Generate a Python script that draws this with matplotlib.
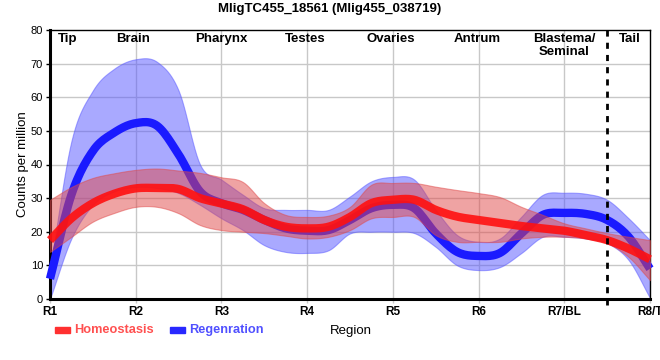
import numpy as np
import matplotlib
matplotlib.use("Agg")
import matplotlib.pyplot as plt

plt.rcParams['font.family'] = ['Liberation Sans', 'DejaVu Sans']

# region ticks along the worm
regions = ['R1', 'R2', 'R3', 'R4', 'R5', 'R6', 'R7/BL', 'R8/T']
region_names = ['Tip', 'Brain', 'Pharynx', 'Testes', 'Ovaries', 'Antrum', 'Blastema/\nSeminal', 'Tail']
name_pos = [0.2, 0.97, 2.0, 2.98, 3.98, 4.98, 6.0, 6.76]

# every quarter region
pos = np.arange(0, 7.01, 0.25)

homeo_mean = [17.5, 24, 28.5, 31.3, 32.9, 33, 32.7, 30, 28.4, 26.7, 23.5, 21.5, 21, 21.5, 24.4,
              28.5, 29.5, 29.5, 26.5, 24.5, 23.5, 22.6, 21.7, 21, 20.3, 19, 17.5, 15, 11.8]
homeo_hi = [29.5, 33.3, 36, 37.4, 38.4, 38.8, 38.2, 37.5, 36.2, 34.8, 28.5, 25, 24.4, 24.8, 27.4,
            34, 34.5, 34.5, 33.4, 32.4, 31.5, 30.3, 27.4, 25, 22.5, 21, 19.6, 18.5, 17.5]
homeo_lo = [14, 18.5, 23, 25.6, 27.4, 27.4, 25.5, 22, 20.5, 20, 19.6, 18.8, 18, 18.5, 20.5,
            24, 24.4, 24.4, 19, 17, 17, 17, 18, 18.5, 18.5, 18, 16.6, 12.5, 5.6]

regen_mean = [6, 31, 44, 49.5, 52.3, 51.5, 43, 32, 28.5, 26.5, 23.5, 21, 20.3, 20.5, 23.5,
              27, 28, 27, 19.5, 14, 12.8, 13.7, 19.5, 25, 25.6, 25.3, 23.5, 18.5, 9]
regen_hi = [9, 47, 62, 68.5, 71.3, 70.5, 62, 40, 35.5, 31, 27, 26.5, 26.5, 26.5, 30.5,
            35, 36.3, 35.5, 26.5, 19, 17, 18, 24.5, 31, 31.6, 31.3, 29.5, 24, 17.5]
regen_lo = [0, 18, 28, 32, 33.3, 33, 31.5, 28, 24, 20.5, 16, 14, 13.7, 14.5, 19.5,
            20, 20, 19.6, 15.5, 10, 8.6, 9.5, 13.7, 18.5, 18.5, 18, 16.6, 11.6, 0.3]


def smooth(x, y, n=12):
    # catmull-rom through the read points, just for drawing
    x = np.asarray(x, float)
    y = np.asarray(y, float)
    yp = np.concatenate([[2*y[0]-y[1]], y, [2*y[-1]-y[-2]]])
    xs, ys = [], []
    t = np.linspace(0, 1, n, endpoint=False)
    for i in range(len(x)-1):
        p0, p1, p2, p3 = yp[i:i+4]
        ys.append(0.5*(2*p1 + (-p0+p2)*t + (2*p0-5*p1+4*p2-p3)*t**2 + (-p0+3*p1-3*p2+p3)*t**3))
        xs.append(x[i] + (x[i+1]-x[i])*t)
    xs.append([x[-1]])
    ys.append([y[-1]])
    return np.concatenate(xs), np.concatenate(ys)


fig = plt.figure(figsize=(6.6, 3.6), dpi=100)
ax = fig.add_axes([50/660, 1-299/360, 600/660, 269/360])

ax.set_xlim(0, 7)
ax.set_ylim(0, 80)

for v in range(10, 80, 10):
    ax.axhline(v, color='#c8c8c8', lw=1, zorder=0)
for i in range(1, 7):
    ax.axvline(i, color='#c8c8c8', lw=1, zorder=0)

# regeneration first, homeostasis on top
xs, lo = smooth(pos, regen_lo)
_, hi = smooth(pos, regen_hi)
_, mn = smooth(pos, regen_mean)
ax.fill_between(xs, lo, hi, color='#5555ff', alpha=0.5, lw=0.8, edgecolor='#5555ff', zorder=2)
ax.plot(xs, mn, color='#1a1aff', lw=6, solid_capstyle='butt', zorder=3, clip_on=False)

xs, lo = smooth(pos, homeo_lo)
_, hi = smooth(pos, homeo_hi)
_, mn = smooth(pos, homeo_mean)
ax.fill_between(xs, lo, hi, color='#e04848', alpha=0.5, lw=0.8, edgecolor='#e04848', zorder=4)
ax.plot(xs, mn, color='#ff1010', lw=6, alpha=0.9, solid_capstyle='butt', zorder=5, clip_on=False)

# tail boundary
ax.plot([6.5, 6.5], [-1.8, 80], color='black', lw=2, ls=(0, (2.2, 2.2)), zorder=6, clip_on=False)

for name, x in zip(region_names, name_pos):
    ax.text(x, 79, name, ha='center', va='top', fontsize=9.5, fontweight='bold',
            linespacing=1.05, zorder=7)

ax.set_xticks(range(len(regions)))
ax.set_xticklabels(regions, fontweight='bold', fontsize=8.5)
ax.set_yticks(range(0, 81, 10))
ax.tick_params(axis='y', labelsize=8, length=3, width=1, pad=2)
ax.tick_params(axis='x', length=3, width=1, color='#c8c8c8', pad=2)

ax.spines['left'].set_linewidth(2.2)
ax.spines['bottom'].set_linewidth(2.2)
ax.spines['top'].set_linewidth(1)
ax.spines['right'].set_linewidth(1)

ax.set_ylabel('Counts per million', fontsize=9.5, labelpad=1)

fig.text(0.5, 0.975, 'MligTC455_18561 (Mlig455_038719)', ha='center', va='center',
         fontsize=9.5, fontweight='bold')

# legend drawn by hand at the bottom
fig.patches.append(plt.Rectangle((55/660, 1-333/360), 15/660, 6/360, color='#ff3030',
                                 transform=fig.transFigure, figure=fig))
fig.text(74/660, 1-330/360, 'Homeostasis', color='#ff5050', fontsize=9.2, fontweight='bold',
         va='center')
fig.patches.append(plt.Rectangle((170/660, 1-333/360), 15/660, 6/360, color='#2828ff',
                                 transform=fig.transFigure, figure=fig))
fig.text(189/660, 1-330/360, 'Regenration', color='#5050ff', fontsize=9.2, fontweight='bold',
         va='center')
fig.text(351/660, 1-331/360, 'Region', ha='center', va='center', fontsize=9.5)

fig.savefig('out.png', dpi=100)
